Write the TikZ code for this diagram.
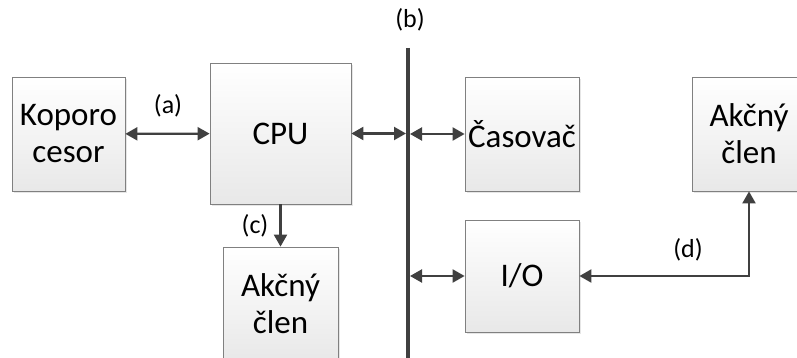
\documentclass[tikz,border=0pt]{standalone}
\usepackage{fontspec}
\setmainfont{Carlito}
\usetikzlibrary{arrows.meta,shadows}
\definecolor{linegray}{HTML}{404040}
\definecolor{boxgray}{HTML}{808080}
\tikzset{
  block/.style={draw=boxgray, line width=0.8pt, top color=white, bottom color=black!9,
    drop shadow={shadow xshift=2pt, shadow yshift=-2pt, opacity=0.2},
    align=center, inner sep=0pt, font=\fontsize{33}{37}\selectfont},
  link/.style={draw=linegray, line width=2.2pt, -{Triangle[length=12pt,width=13pt]}},
  dbl/.style={link, {Triangle[length=12pt,width=13pt]}-{Triangle[length=12pt,width=13pt]}},
  tag/.style={font=\fontsize{26}{30}\selectfont}
}

\begin{document}
\begin{tikzpicture}[x=1pt,y=-1pt]
  \useasboundingbox (0,0) rectangle (797,358);
  \clip (0,0) rectangle (797,358);
  % blocks
  \node[block, minimum width=113pt, minimum height=114pt] (kopro) at (68.5,134) {Koporo\\cesor};
  \node[block, minimum width=141pt, minimum height=141pt] (cpu) at (280.5,133.5) {CPU};
  \node[block, minimum width=115pt, minimum height=114pt] (akc1) at (280.5,304) {Akčný\\člen};
  \node[block, minimum width=114pt, minimum height=114pt] (casovac) at (522,134) {Časovač};
  \node[block, minimum width=114pt, minimum height=112pt] (io) at (522,276) {I/O};
  \node[block, minimum width=114pt, minimum height=114pt] (akc2) at (749,134) {Akčný\\člen};
  % bus
  \coordinate (bustop) at (408,48);
  \coordinate (busbot) at (408,362);
  \draw[linegray, line width=4pt] (bustop) -- (busbot);
  % connectors
  \draw[dbl] (kopro) -- (cpu);
  \draw[dbl, shorten >=2pt] (cpu.east) -- (cpu.east -| bustop);
  \draw[dbl, shorten <=2pt] (casovac.west -| bustop) -- (casovac.west);
  \draw[dbl, shorten <=2pt] (io.west -| bustop) -- (io.west);
  \draw[link] (cpu.south) -- (akc1.north);
  \draw[dbl] (io.east) -| (akc2.south);
  % labels
  \node[tag] (la) at (168,106) {(a)};
  \node[tag] (lb) at (410,20) {(b)};
  \node[tag] (lc) at (255,226) {(c)};
  \node[tag] (ld) at (688,250) {(d)};
\end{tikzpicture}
\end{document}
